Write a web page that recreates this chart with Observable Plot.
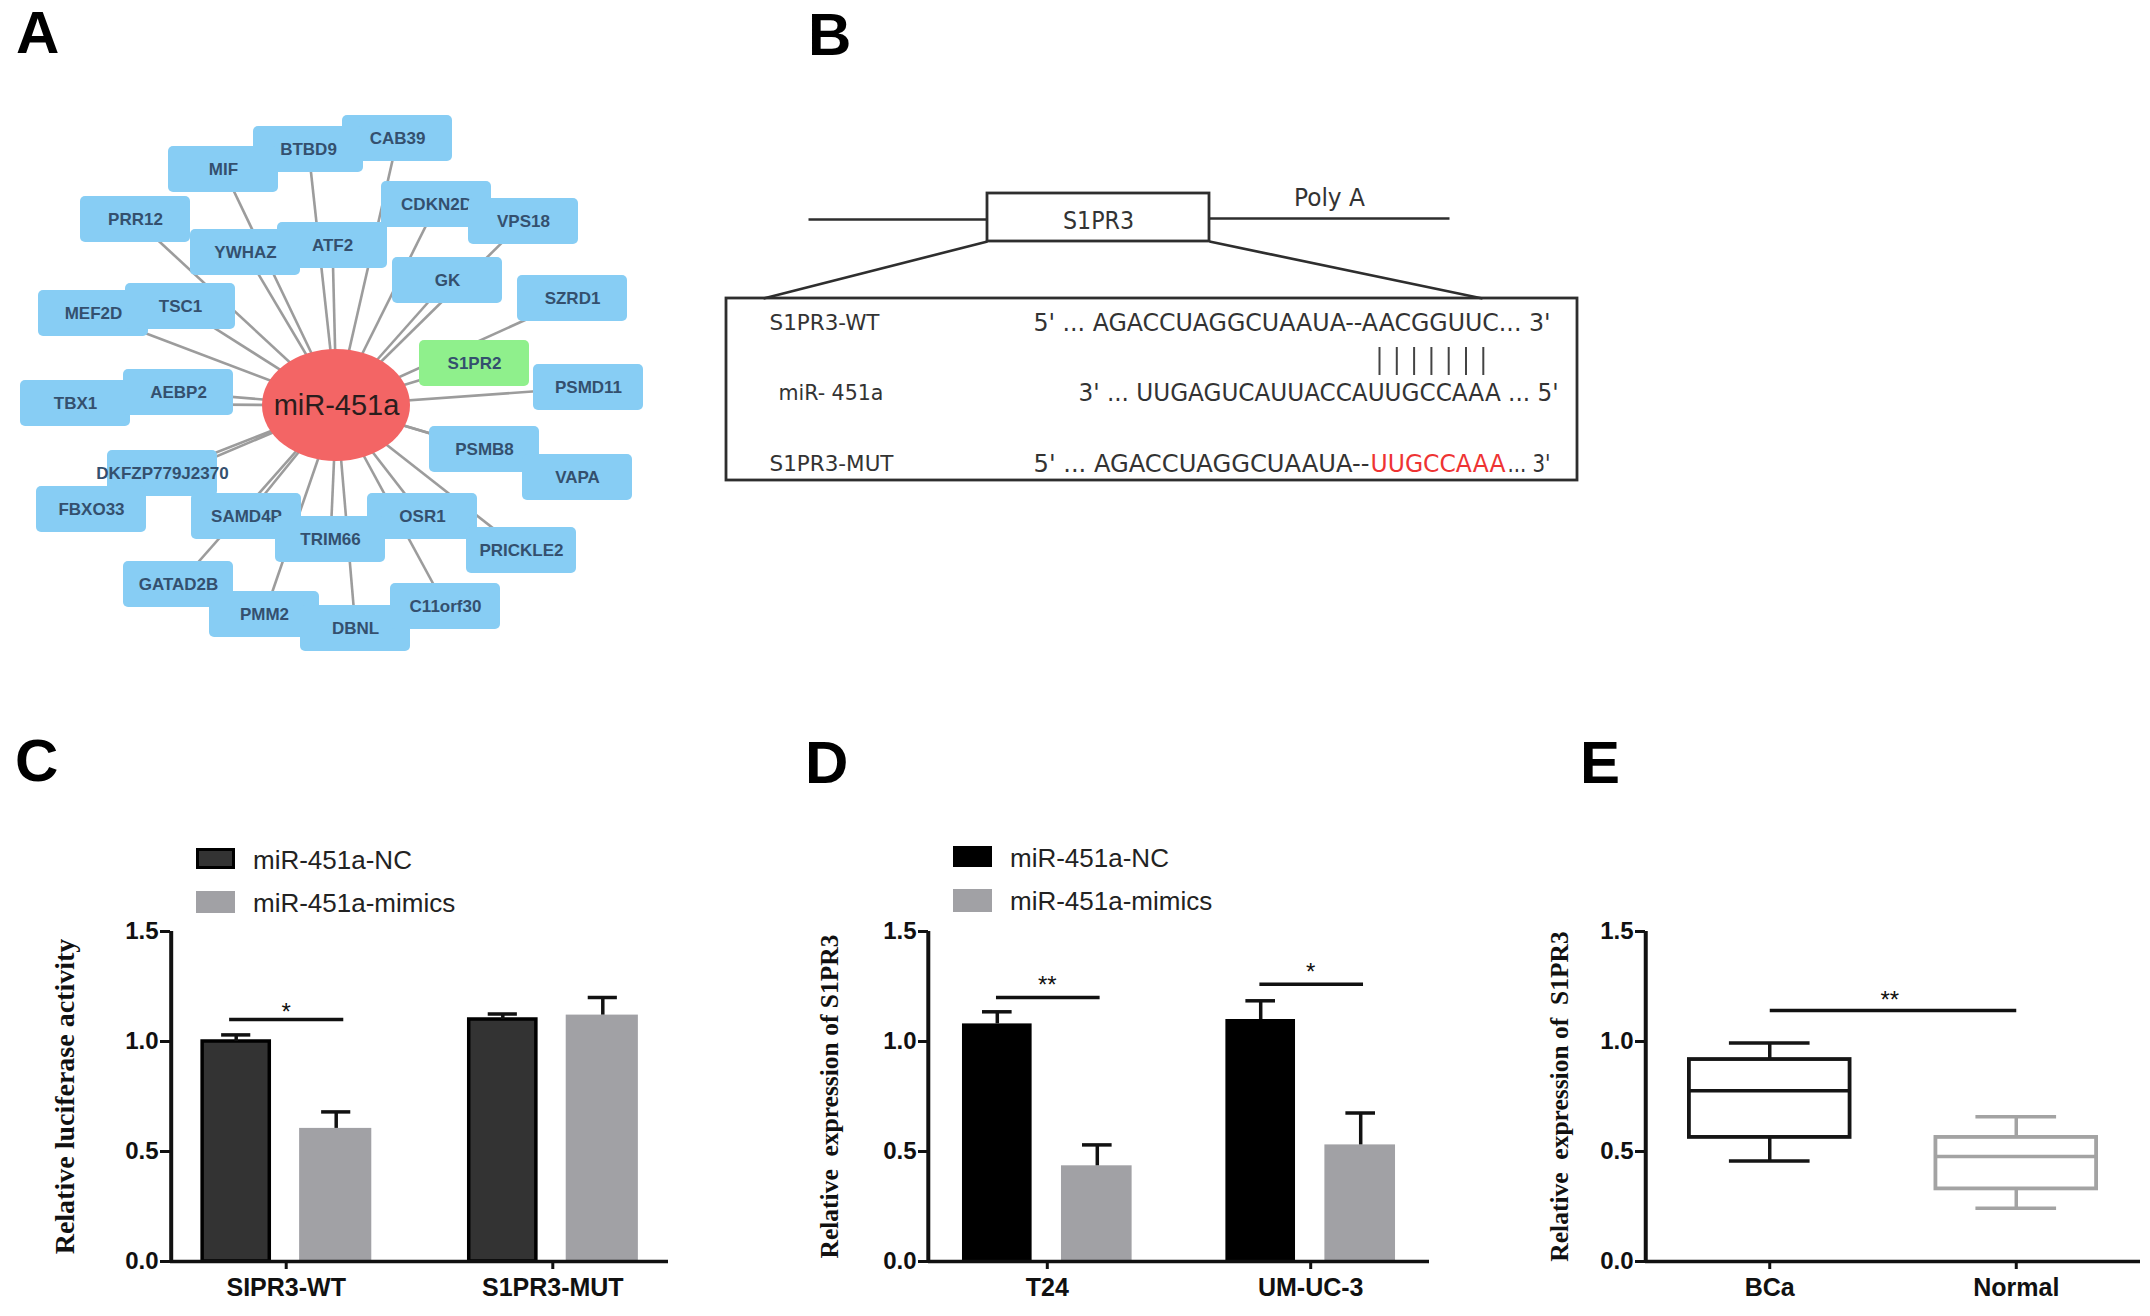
<!DOCTYPE html>
<html><head><meta charset="utf-8">
<script src="https://cdn.jsdelivr.net/npm/d3@7"></script>
<script src="https://cdn.jsdelivr.net/npm/@observablehq/plot@0.6"></script>
<style>
body{margin:0;background:#fff;}
#fig{position:relative;width:2150px;height:1316px;overflow:hidden;background:#fff;font-family:"Liberation Sans",Arial,sans-serif;}
.panel{position:absolute;}
.letter{position:absolute;font:bold 60px "Liberation Sans",Arial,sans-serif;line-height:60px;color:#000;}
.legtext{position:absolute;font-size:26px;line-height:26px;color:#222;white-space:nowrap;}
.sw{position:absolute;box-sizing:border-box;}
</style></head><body><div id="fig"></div>
<script>
// ---------------- DATA ----------------
// Panel A: miR-451a target network (node layout)
const hubLabel = "miR-451a";
const targetGenes = ["CAB39","BTBD9","MIF","CDKN2D","VPS18","PRR12","YWHAZ","ATF2","GK","SZRD1","MEF2D","TSC1","S1PR2","PSMD11","TBX1","AEBP2","PSMB8","VAPA","DKFZP779J2370","FBXO33","SAMD4P","OSR1","TRIM66","PRICKLE2","GATAD2B","PMM2","DBNL","C11orf30"];
const layoutX = [397,308,223,436,523,135,245,332,447,572,93,180,474,588,75,178,484,577,162,91,246,422,330,521,178,264,355,445];
const layoutY = [138,149,169,204,221,219,252,245,280,298,313,306,363,387,403,392,449,477,473,509,516,516,539,550,584,614,628,606];
const highlightedGene = "S1PR2";

// Panel B: binding-site diagram
const geneLabel = "S1PR3";
const polyLabel = "Poly A";
const rowLabels = ["S1PR3-WT", "miR- 451a", "S1PR3-MUT"];
const wtSeq = "5' ... AGACCUAGGCUAAUA--AACGGUUC... 3'";
const mirSeq = "3' ... UUGAGUCAUUACCAUUGCCAAA ... 5'";
const mutParts = ["5' ... AGACCUAGGCUAAUA--", "UUGCCAAA", "... 3'"];
const pairCount = 7;

// Panel C: luciferase activity
const lucCats = ["SIPR3-WT", "S1PR3-MUT"];
const lucNC = [1.00, 1.10];
const lucNCErr = [0.03, 0.025];
const lucMimics = [0.605, 1.12];
const lucMimicsErr = [0.075, 0.08];
const lucSig = ["*", ""];
const lucSigLevel = [1.10, null];

// Panel D: qPCR in cell lines
const cellCats = ["T24", "UM-UC-3"];
const cellNC = [1.08, 1.10];
const cellNCErr = [0.055, 0.085];
const cellMimics = [0.435, 0.53];
const cellMimicsErr = [0.095, 0.145];
const cellSig = ["**", "*"];
const cellSigLevel = [1.20, 1.26];

// Panel E: tissue expression (box summary)
const tissueCats = ["BCa", "Normal"];
const tissueMin = [0.457, 0.242];
const tissueQ1 = [0.564, 0.33];
const tissueMedian = [0.776, 0.477];
const tissueQ3 = [0.918, 0.564];
const tissueMax = [0.993, 0.658];
const tissueSig = "**";
const tissueSigLevel = 1.141;

const seriesNames = ["miR-451a-NC", "miR-451a-mimics"];
const yTicks = [0, 0.5, 1.0, 1.5];

// ---------------- HELPERS ----------------
const fig = document.getElementById("fig");
const SANS = "'Liberation Sans', Arial, Helvetica, sans-serif";
const SERIF = "'Liberation Serif', 'Times New Roman', serif";
const NARROW = "'Liberation Sans Narrow', 'Arial Narrow', 'DejaVu Sans Condensed', 'Liberation Sans', sans-serif";

function place(node, left, top, w, h) {
  const d = document.createElement("div");
  d.className = "panel";
  Object.assign(d.style, {left: left + "px", top: top + "px", width: w + "px", height: h + "px"});
  d.appendChild(node);
  fig.appendChild(d);
}
function letter(t, left, top) {
  const d = document.createElement("div");
  d.className = "letter"; d.textContent = t;
  d.style.left = left + "px"; d.style.top = top + "px";
  fig.appendChild(d);
}
function legend(left, top, boxes) {
  boxes.forEach((b, i) => {
    const s = document.createElement("div");
    s.className = "sw";
    Object.assign(s.style, {left: left + "px", top: b.top + "px", width: "39px", height: b.h + "px", background: b.fill, border: b.border || "none"});
    fig.appendChild(s);
    const t = document.createElement("div");
    t.className = "legtext"; t.textContent = seriesNames[i];
    Object.assign(t.style, {left: (left + 57) + "px", top: b.textTop + "px"});
    fig.appendChild(t);
  });
}

// ---------------- PANEL A ----------------
const hub = {x: 336, y: 405};
const nodes = targetGenes.map((g, i) => ({gene: g, x: layoutX[i], y: layoutY[i]}));
const A = Plot.plot({
  width: 700, height: 680, margin: 0,
  x: {domain: [0, 700], range: [0, 700], axis: null},
  y: {domain: [0, 680], range: [0, 680], axis: null},
  style: {background: "transparent", overflow: "visible", fontFamily: SANS},
  marks: [
    Plot.link(nodes, {x1: () => hub.x, y1: () => hub.y, x2: "x", y2: "y", stroke: "#9c9c9c", strokeWidth: 2.6}),
    ...nodes.flatMap(n => [
      Plot.rect([n], {x1: d => d.x - 55, x2: d => d.x + 55, y1: d => d.y - 23, y2: d => d.y + 23, rx: 5,
        fill: n.gene === highlightedGene ? "#8ff08c" : "#87cdf4"}),
      Plot.text([n], {x: "x", y: "y", text: "gene", fontSize: 17, fontWeight: "bold", fill: "#34506e"})
    ]),
    Plot.rect([hubLabel], {x1: () => hub.x - 74, x2: () => hub.x + 74, y1: () => hub.y - 56, y2: () => hub.y + 56, rx: 74, ry: 56, fill: "#f36565"}),
    Plot.text([hubLabel], {x: () => hub.x, y: () => hub.y, text: d => d, fontSize: 29, fill: "#2a1d1d"})
  ]
});
place(A, 0, 0, 700, 680);

// ---------------- PANEL B ----------------
const bSegments = [
  {x1: 108, y1: 219, x2: 287, y2: 219},
  {x1: 509, y1: 218, x2: 749, y2: 218},
  {x1: 287, y1: 241, x2: 63, y2: 298},
  {x1: 509, y1: 241, x2: 782, y2: 298}
];
const bBoxes = [
  {x1: 287, y1: 193, x2: 509, y2: 241},
  {x1: 26, y1: 298, x2: 877, y2: 480}
];
const rowY = [323, 393, 464];
const rowX = [69, 78, 69];
const B = Plot.plot({
  width: 900, height: 520, margin: 0,
  x: {domain: [0, 900], range: [0, 900], axis: null},
  y: {domain: [0, 520], range: [0, 520], axis: null},
  style: {background: "transparent", overflow: "visible", fontFamily: NARROW},
  marks: [
    Plot.link(bSegments, {x1: "x1", y1: "y1", x2: "x2", y2: "y2", stroke: "#2e2e2e", strokeWidth: 2.6}),
    Plot.rect(bBoxes, {x1: "x1", x2: "x2", y1: "y1", y2: "y2", fill: "none", stroke: "#2e2e2e", strokeWidth: 2.8}),
    Plot.text([geneLabel], {x: () => 398, y: () => 220, text: d => d, fontSize: 25, fill: "#333"}),
    Plot.text([polyLabel], {x: () => 629, y: () => 197, text: d => d, fontSize: 25, fill: "#333"}),
    Plot.text(rowLabels, {x: (d, i) => rowX[i], y: (d, i) => rowY[i], text: d => d, textAnchor: "start", fontSize: 21, fill: "#333"}),
    Plot.text([wtSeq], {x: () => 333, y: () => rowY[0], text: d => d, textAnchor: "start", fontSize: 24, fill: "#333"}),
    Plot.text([mirSeq], {x: () => 378, y: () => rowY[1], text: d => d, textAnchor: "start", fontSize: 24, fill: "#333"}),
    Plot.text(mutParts, {x: (d, i) => [333, 670, 807][i], y: () => rowY[2], text: d => d, textAnchor: "start", fontSize: 24,
      fill: (d, i) => i === 1 ? "#ee3333" : "#333"}),
    Plot.ruleX(d3.range(pairCount), {x: i => 679 + i * 17.3, y1: () => 347, y2: () => 375, stroke: "#444", strokeWidth: 2})
  ]
});
const textWidths = {};
textWidths[geneLabel] = 71; textWidths[polyLabel] = 71;
textWidths[rowLabels[0]] = 110; textWidths[rowLabels[1]] = 105; textWidths[rowLabels[2]] = 124;
textWidths[wtSeq] = 517; textWidths[mirSeq] = 480;
textWidths[mutParts[0]] = 336; textWidths[mutParts[1]] = 135; textWidths[mutParts[2]] = 43;
d3.select(B).selectAll("text").each(function() {
  const w = textWidths[this.textContent];
  if (w) { this.setAttribute("textLength", w); this.setAttribute("lengthAdjust", "spacingAndGlyphs"); }
});
place(B, 700, 0, 900, 520);

// ---------------- BAR PANELS (C, D) ----------------
function barPanel(o) {
  const rows = o.cats.map((c, i) => ({c, nc: o.nc[i], ncErr: o.ncErr[i], mim: o.mim[i], mimErr: o.mimErr[i], sig: o.sig[i], sigLevel: o.sigLevel[i]}));
  const sigRows = rows.filter(d => d.sig);
  return Plot.plot({
    width: 700, height: 576,
    marginLeft: o.marginLeft, marginRight: o.marginRight, marginTop: 191, marginBottom: 55,
    style: {fontFamily: SANS, fontSize: "24px", fontWeight: "bold", color: "#111", background: "transparent", overflow: "visible"},
    x: {domain: o.cats, paddingInner: o.pi, paddingOuter: o.po, round: false, label: null},
    y: {domain: [0, 1.5], label: null},
    marks: [
      Plot.barY(rows, {x: "c", y: "nc", insetLeft: o.ncInsetL, insetRight: o.ncInsetR, fill: o.ncFill, stroke: o.ncStroke, strokeWidth: 3.5}),
      Plot.barY(rows, {x: "c", y: "mim", insetLeft: o.mimInsetL, insetRight: 0, fill: "#a1a1a5"}),
      Plot.ruleX(rows, {x: "c", y1: "nc", y2: d => d.nc + d.ncErr, dx: -50, stroke: "#111", strokeWidth: 3.5}),
      Plot.tickY(rows, {x: "c", y: d => d.nc + d.ncErr, insetLeft: o.capL, insetRight: o.capR, stroke: "#111", strokeWidth: 3.5}),
      Plot.ruleX(rows, {x: "c", y1: "mim", y2: d => d.mim + d.mimErr, dx: 50, stroke: "#111", strokeWidth: 3.5}),
      Plot.tickY(rows, {x: "c", y: d => d.mim + d.mimErr, insetLeft: o.capR, insetRight: o.capL, stroke: "#111", strokeWidth: 3.5}),
      Plot.tickY(sigRows, {x: "c", y: "sigLevel", insetLeft: o.sigL, insetRight: o.sigR, stroke: "#111", strokeWidth: 3.5}),
      Plot.text(sigRows, {x: "c", y: "sigLevel", text: "sig", dy: o.sigDy, fontSize: 24, fontWeight: "normal", fill: "#111"}),
      Plot.ruleY([0], {stroke: "#111", strokeWidth: 3.5}),
      Plot.ruleX([o.cats[0]], {x: d => d, y1: () => 0, y2: () => 1.5, dx: o.axisDx, stroke: "#111", strokeWidth: 4}),
      Plot.axisY({ticks: yTicks, tickFormat: ".1f", tickSize: 10, tickPadding: 2, strokeWidth: 3, label: null, fontSize: 24}),
      Plot.axisX({tickSize: 8, tickPadding: 9, strokeWidth: 3, label: null, fontSize: 25}),
      Plot.text([o.ylabel], {frameAnchor: "left", textAnchor: "middle", rotate: -90, dx: o.labelDx, text: d => d, fontFamily: SERIF, fontWeight: "bold", fontSize: o.labelSize, fill: "#111"})
    ]
  });
}

const C = barPanel({
  cats: lucCats, nc: lucNC, ncErr: lucNCErr, mim: lucMimics, mimErr: lucMimicsErr, sig: lucSig, sigLevel: lucSigLevel,
  marginLeft: 170, marginRight: 32, pi: 0.358, po: 0.113, axisDx: -115,
  ncFill: "#333333", ncStroke: "#000", ncInsetL: 2, ncInsetR: 102, mimInsetL: 99,
  capL: 21, capR: 121, sigL: 29, sigR: 28, sigDy: -7, labelDx: -105, labelSize: 28,
  ylabel: "Relative luciferase activity"
});
place(C, 0, 740, 700, 576);
legend(196, 0, [
  {top: 848, h: 21, fill: "#333", border: "3px solid #000", textTop: 847},
  {top: 891, h: 22, fill: "#a1a1a5", textTop: 890}
]);

const D = barPanel({
  cats: cellCats, nc: cellNC, ncErr: cellNCErr, mim: cellMimics, mimErr: cellMimicsErr, sig: cellSig, sigLevel: cellSigLevel,
  marginLeft: 148, marginRight: 51, pi: 0.356, po: 0.129, axisDx: -119,
  ncFill: "#000", ncStroke: "none", ncInsetL: 0, ncInsetR: 100, mimInsetL: 99,
  capL: 20, capR: 120, sigL: 34, sigR: 32, sigDy: -12, labelDx: -99, labelSize: 25.5,
  ylabel: "Relative  expression of S1PR3"
});
place(D, 780, 740, 700, 576);
legend(953, 0, [
  {top: 846, h: 21, fill: "#000", textTop: 845},
  {top: 889, h: 23, fill: "#a1a1a5", textTop: 888}
]);

// ---------------- PANEL E ----------------
const tRows = tissueCats.map((c, i) => ({c, min: tissueMin[i], q1: tissueQ1[i], median: tissueMedian[i], q3: tissueQ3[i], max: tissueMax[i]}));
const E = Plot.plot({
  width: 670, height: 576,
  marginLeft: 165, marginRight: 10, marginTop: 191, marginBottom: 55,
  style: {fontFamily: SANS, fontSize: "24px", fontWeight: "bold", color: "#111", background: "transparent", overflow: "visible"},
  x: {domain: tissueCats, paddingInner: 0.332, paddingOuter: 0.17, round: false, label: null},
  y: {domain: [0, 1.5], label: null},
  color: {domain: tissueCats, range: ["#151515", "#a3a3a3"]},
  marks: [
    Plot.ruleX(tRows, {x: "c", y1: "q3", y2: "max", stroke: "c", strokeWidth: 3.5}),
    Plot.ruleX(tRows, {x: "c", y1: "min", y2: "q1", stroke: "c", strokeWidth: 3.5}),
    Plot.tickY(tRows, {x: "c", y: "max", insetLeft: 42, insetRight: 42, stroke: "c", strokeWidth: 3.5}),
    Plot.tickY(tRows, {x: "c", y: "min", insetLeft: 42, insetRight: 42, stroke: "c", strokeWidth: 3.5}),
    Plot.barY(tRows, {x: "c", y1: "q1", y2: "q3", insetLeft: 2, insetRight: 2, fill: "white", stroke: "c", strokeWidth: 3.8}),
    Plot.tickY(tRows, {x: "c", y: "median", insetLeft: 2, insetRight: 2, stroke: "c", strokeWidth: 3.5}),
    Plot.link([tissueSig], {x1: () => tissueCats[0], x2: () => tissueCats[1], y1: () => tissueSigLevel, y2: () => tissueSigLevel, stroke: "#111", strokeWidth: 3.5}),
    Plot.text([tissueSig], {x: () => tissueCats[0], y: () => tissueSigLevel, dx: 120, dy: -10, text: d => d, fontSize: 24, fontWeight: "normal", fill: "#111"}),
    Plot.ruleY([0], {stroke: "#111", strokeWidth: 3.5}),
    Plot.ruleX([tissueCats[0]], {x: d => d, y1: () => 0, y2: () => 1.5, dx: -124, stroke: "#111", strokeWidth: 4}),
    Plot.axisY({ticks: yTicks, tickFormat: ".1f", tickSize: 10, tickPadding: 2, strokeWidth: 3, label: null, fontSize: 24}),
    Plot.axisX({tickSize: 8, tickPadding: 9, strokeWidth: 3, label: null, fontSize: 25}),
    Plot.text(["Relative  expression of  S1PR3"], {frameAnchor: "left", textAnchor: "middle", rotate: -90, dx: -86, text: d => d, fontFamily: SERIF, fontWeight: "bold", fontSize: 25.5, fill: "#111"})
  ]
});
place(E, 1480, 740, 670, 576);

// ---------------- PANEL LETTERS ----------------
letter("A", 16, 3);
letter("B", 808, 5);
letter("C", 15, 731);
letter("D", 805, 733);
letter("E", 1580, 733);
</script></body></html>
